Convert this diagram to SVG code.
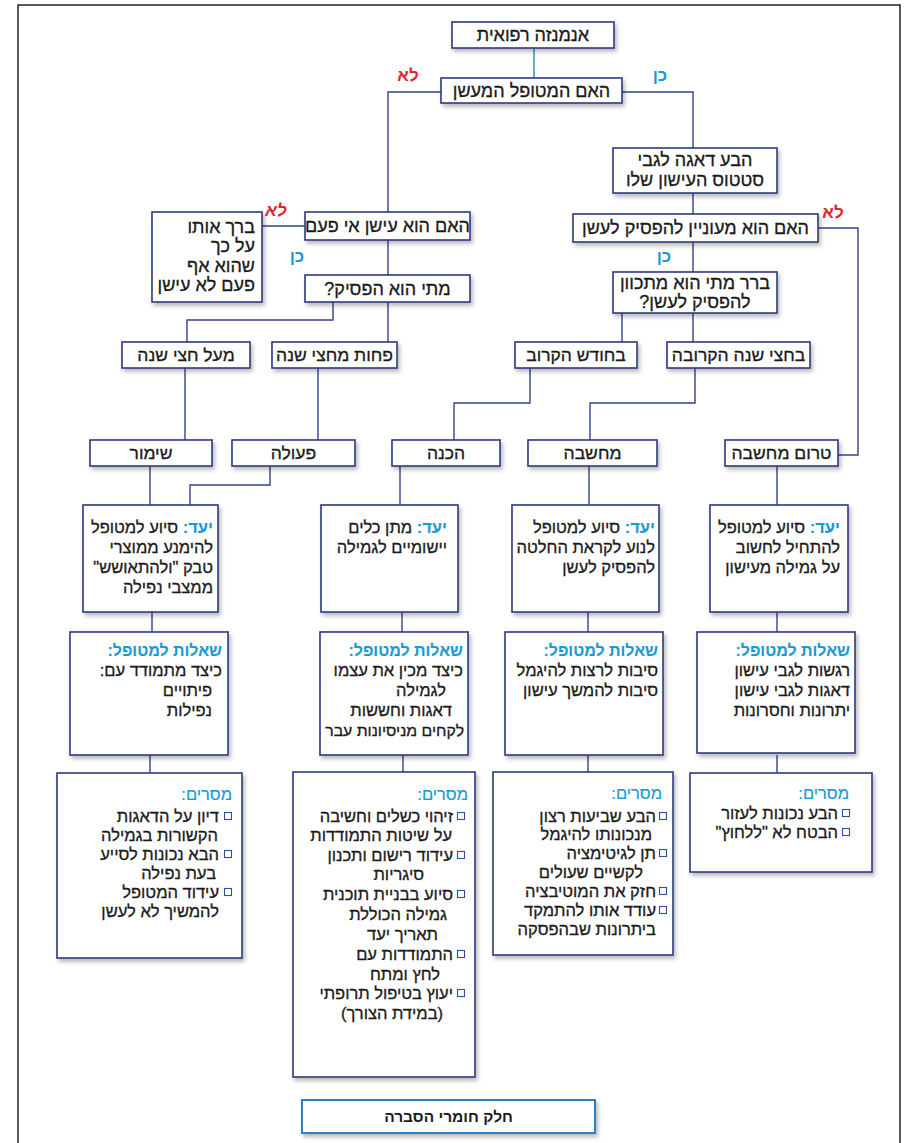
<svg xmlns="http://www.w3.org/2000/svg" width="906" height="1143" viewBox="0 0 906 1143">
<defs>
<filter id="sh" x="-10%" y="-10%" width="130%" height="140%"><feDropShadow dx="2" dy="3" stdDeviation="2.2" flood-color="#000" flood-opacity="0.28"/></filter>
<style>
.box{fill:#fff;stroke:#2d3a80;stroke-width:1.6;filter:url(#sh)}
.lb{fill:#fff;stroke:#2f80c2;stroke-width:2;filter:url(#sh)}
.c{fill:none;stroke:#34428c;stroke-width:1.4}
.frame{fill:none;stroke:#222;stroke-width:1.5}
text{font-family:"Liberation Sans","DejaVu Sans",sans-serif;font-size:16.5px;fill:#1a1a1a;stroke:#1a1a1a;stroke-width:0.3;direction:rtl}
.m{text-anchor:middle}
.r{text-anchor:start}
.t{font-size:18px}
.s{font-size:17.5px}
.h{fill:#1a9ad6;stroke:#1a9ad6;font-weight:bold;stroke-width:0.1}
.hq{font-size:16px}
.ms{fill:#1a9ad6;stroke:#1a9ad6;stroke-width:0.2}
.yes{fill:#1a9ad6;stroke:none;font-weight:bold;font-size:17px}
.no{fill:#e1252b;stroke:none;font-weight:bold;font-size:17px}
.cb{fill:#fff;stroke:#2d4fa0;stroke-width:1.1}
.lbt{font-weight:bold;font-size:15.5px;stroke-width:0}
</style>
</defs>
<rect width="906" height="1143" fill="#fff"/>
<path class="frame" d="M18 1143 V5 H900 V1143"/>

<g id="connectors">
<path d="M534 48 V78" class="c" style="stroke:#2b86bd"/>
<path d="M441 92 H388 V212" class="c"/>
<path d="M622 92 H693 V148" class="c"/>
<path d="M693 193 V214" class="c"/>
<path d="M693 242 V272" class="c"/>
<path d="M818 228 H858 V455 H838" class="c"/>
<path d="M305 226 H262" class="c"/>
<path d="M388 240 V275" class="c"/>
<path d="M333 302 V320 H187 V342" class="c"/>
<path d="M388 302 V342" class="c"/>
<path d="M622 313 V342" class="c"/>
<path d="M693 313 V342" class="c"/>
<path d="M185 368 V440" class="c"/>
<path d="M318 368 V440" class="c"/>
<path d="M530 368 V403 H454 V440" class="c"/>
<path d="M695 368 V403 H590 V440" class="c"/>
<path d="M150 466 V505" class="c"/>
<path d="M270 466 V485 H190 V505" class="c"/>
<path d="M400 466 V505" class="c"/>
<path d="M589 466 V505" class="c"/>
<path d="M777 466 V505" class="c"/>
<path d="M152 612 V632" class="c"/>
<path d="M402 612 V632" class="c"/>
<path d="M588 612 V632" class="c"/>
<path d="M777 612 V632" class="c"/>
<path d="M150 755 V773" class="c"/>
<path d="M403 755 V772" class="c"/>
<path d="M588 755 V772" class="c"/>
<path d="M777 755 V773" class="c"/>
<text x="408" y="81" class="no m">לא</text>
<text x="660" y="81" class="yes m">כן</text>
<text x="276" y="216" class="no m" font-style="italic">לא</text>
<text x="297" y="262" class="yes m">כן</text>
<text x="833" y="218" class="no m">לא</text>
<text x="664" y="262" class="yes m">כן</text>
</g>

<g id="n-title"><rect class="box" x="452" y="22" width="162" height="26"/><text x="533" y="41" class="m t">אנמנזה רפואית</text></g>
<g id="n-q1"><rect class="box" x="441" y="78" width="181" height="25"/><text x="531.5" y="96.5" class="m t">האם המטופל המעשן</text></g>
<g id="n-concern"><rect class="box" x="613" y="148" width="164" height="45"/><text x="695" y="166" class="m t">הבע דאגה לגבי</text><text x="695" y="186" class="m t">סטטוס העישון שלו</text></g>
<g id="n-interest"><rect class="box" x="573" y="214" width="245" height="28"/><text x="695.5" y="234" class="m t">האם הוא מעוניין להפסיק לעשן</text></g>
<g id="n-when-plan"><rect class="box" x="613" y="272" width="164" height="41"/><text x="695" y="289" class="m t">ברר מתי הוא מתכוון</text><text x="695" y="308" class="m t">להפסיק לעשן?</text></g>
<g id="n-ever"><rect class="box" x="305" y="212" width="165" height="28"/><text x="387.5" y="232" class="m t">האם הוא עישן אי פעם</text></g>
<g id="n-bless"><rect class="box" x="152" y="212" width="110" height="90"/><text x="255" y="233" class="r t">ברך אותו</text><text x="255" y="252" class="r t">על כך</text><text x="255" y="272" class="r t">שהוא אף</text><text x="255" y="291" class="r t">פעם לא עישן</text></g>
<g id="n-when-quit"><rect class="box" x="305" y="275" width="165" height="27"/><text x="387.5" y="294.5" class="m t">מתי הוא הפסיק?</text></g>
<g id="n-over-half"><rect class="box" x="122" y="342" width="128" height="26"/><text x="186" y="361" class="m s">מעל חצי שנה</text></g>
<g id="n-under-half"><rect class="box" x="272" y="342" width="125" height="26"/><text x="334.5" y="361" class="m s">פחות מחצי שנה</text></g>
<g id="n-next-month"><rect class="box" x="515" y="342" width="122" height="26"/><text x="576" y="361" class="m s">בחודש הקרוב</text></g>
<g id="n-next-half"><rect class="box" x="667" y="342" width="143" height="26"/><text x="738.5" y="361" class="m s">בחצי שנה הקרובה</text></g>

<g id="n-maintenance"><rect class="box" x="90" y="440" width="122" height="26"/><text x="151" y="459" class="m s">שימור</text></g>
<g id="n-action"><rect class="box" x="232" y="440" width="123" height="26"/><text x="293.5" y="459" class="m s">פעולה</text></g>
<g id="n-preparation"><rect class="box" x="392" y="440" width="108" height="26"/><text x="446" y="459" class="m s">הכנה</text></g>
<g id="n-contemplation"><rect class="box" x="528" y="440" width="129" height="26"/><text x="592.5" y="459" class="m s">מחשבה</text></g>
<g id="n-precontemplation"><rect class="box" x="725" y="440" width="113" height="26"/><text x="781.5" y="459" class="m s">טרום מחשבה</text></g>

<g id="goal-1"><rect class="box" x="83" y="505" width="135" height="107"/>
<text x="213" y="533" class="r"><tspan class="h">יעד:</tspan> סיוע למטופל</text>
<text x="213" y="553" class="r">להימנע ממוצרי</text>
<text x="213" y="573" class="r">טבק "ולהתאושש"</text>
<text x="213" y="593" class="r">ממצבי נפילה</text></g>
<g id="goal-2"><rect class="box" x="321" y="505" width="137" height="107"/>
<text x="447" y="533" class="r"><tspan class="h">יעד:</tspan> מתן כלים</text>
<text x="447" y="553" class="r">יישומיים לגמילה</text></g>
<g id="goal-3"><rect class="box" x="512" y="505" width="147" height="107"/>
<text x="655" y="533" class="r"><tspan class="h">יעד:</tspan> סיוע למטופל</text>
<text x="655" y="553" class="r">לנוע לקראת החלטה</text>
<text x="655" y="573" class="r">להפסיק לעשן</text></g>
<g id="goal-4"><rect class="box" x="710" y="505" width="138" height="107"/>
<text x="840" y="533" class="r"><tspan class="h">יעד:</tspan> סיוע למטופל</text>
<text x="840" y="553" class="r">להתחיל לחשוב</text>
<text x="840" y="573" class="r">על גמילה מעישון</text></g>

<g id="questions-1"><rect class="box" x="70" y="632" width="158" height="123"/>
<text x="222" y="656" class="r h hq">שאלות למטופל:</text>
<text x="222" y="676" class="r">כיצד מתמודד עם:</text>
<text x="212" y="696" class="r">פיתויים</text>
<text x="212" y="716" class="r">נפילות</text></g>
<g id="questions-2"><rect class="box" x="320" y="632" width="148" height="123"/>
<text x="463" y="656" class="r h hq">שאלות למטופל:</text>
<text x="463" y="676" class="r">כיצד מכין את עצמו</text>
<text x="446" y="696" class="r">לגמילה</text>
<text x="452" y="716" class="r">דאגות וחששות</text>
<text x="464" y="736" class="r" style="font-size:15.8px">לקחים מניסיונות עבר</text></g>
<g id="questions-3"><rect class="box" x="505" y="632" width="158" height="123"/>
<text x="658" y="656" class="r h hq">שאלות למטופל:</text>
<text x="658" y="676" class="r">סיבות לרצות להיגמל</text>
<text x="658" y="696" class="r">סיבות להמשך עישון</text></g>
<g id="questions-4"><rect class="box" x="697" y="632" width="158" height="121"/>
<text x="850" y="656" class="r h hq">שאלות למטופל:</text>
<text x="850" y="676" class="r">רגשות לגבי עישון</text>
<text x="850" y="696" class="r">דאגות לגבי עישון</text>
<text x="850" y="716" class="r">יתרונות וחסרונות</text></g>

<g id="messages-1"><rect class="box" x="57" y="773" width="185" height="185"/>
<text x="232" y="800" class="r ms">מסרים:</text>
<rect class="cb" x="224.5" y="812.5" width="7" height="7"/><text x="219" y="822" class="r">דיון על הדאגות</text>
<text x="218" y="841" class="r">הקשורות בגמילה</text>
<rect class="cb" x="224.5" y="850.5" width="7" height="7"/><text x="219" y="860" class="r">הבא נכונות לסייע</text>
<text x="216" y="879" class="r">בעת נפילה</text>
<rect class="cb" x="224.5" y="888.5" width="7" height="7"/><text x="219" y="898" class="r">עידוד המטופל</text>
<text x="219" y="917" class="r">להמשיך לא לעשן</text></g>

<g id="messages-2"><rect class="box" x="293" y="772" width="182" height="305"/>
<text x="468" y="800" class="r ms">מסרים:</text>
<rect class="cb" x="457.5" y="812.5" width="7" height="7"/><text x="453" y="822" class="r">זיהוי כשלים וחשיבה</text>
<text x="452" y="841" class="r">על שיטות התמודדות</text>
<rect class="cb" x="457.5" y="851.5" width="7" height="7"/><text x="453" y="861" class="r">עידוד רישום ותכנון</text>
<text x="424" y="880" class="r">סיגריות</text>
<rect class="cb" x="457.5" y="890.5" width="7" height="7"/><text x="453" y="900" class="r">סיוע בבניית תוכנית</text>
<text x="447" y="920" class="r">גמילה הכוללת</text>
<text x="438" y="940" class="r">תאריך יעד</text>
<rect class="cb" x="457.5" y="950.5" width="7" height="7"/><text x="453" y="960" class="r">התמודדות עם</text>
<text x="440" y="980" class="r">לחץ ומתח</text>
<rect class="cb" x="457.5" y="989.5" width="7" height="7"/><text x="453" y="999" class="r">יעוץ בטיפול תרופתי</text>
<text x="443" y="1019" class="r">(במידת הצורך)</text></g>

<g id="messages-3"><rect class="box" x="493" y="772" width="180" height="183"/>
<text x="662" y="799" class="r ms">מסרים:</text>
<rect class="cb" x="659.5" y="812.5" width="7" height="7"/><text x="656" y="822" class="r">הבע שביעות רצון</text>
<text x="652" y="840" class="r">מנכונותו להיגמל</text>
<rect class="cb" x="659.5" y="849.5" width="7" height="7"/><text x="656" y="859" class="r">תן לגיטימציה</text>
<text x="643" y="878" class="r">לקשיים שעולים</text>
<rect class="cb" x="659.5" y="887.5" width="7" height="7"/><text x="656" y="897" class="r">חזק את המוטיבציה</text>
<rect class="cb" x="659.5" y="906.5" width="7" height="7"/><text x="656" y="916" class="r">עודד אותו להתמקד</text>
<text x="656" y="935" class="r">ביתרונות שבהפסקה</text></g>

<g id="messages-4"><rect class="box" x="690" y="773" width="182" height="99"/>
<text x="849" y="799" class="r ms">מסרים:</text>
<rect class="cb" x="842.5" y="809.5" width="7" height="7"/><text x="838" y="819" class="r">הבע נכונות לעזור</text>
<rect class="cb" x="842.5" y="828.5" width="7" height="7"/><text x="838" y="838" class="r">הבטח לא "ללחוץ"</text></g>

<g id="label"><rect class="lb" x="302" y="1100" width="293" height="33"/><text x="448.5" y="1122" class="m lbt">חלק חומרי הסברה</text></g>
</svg>
